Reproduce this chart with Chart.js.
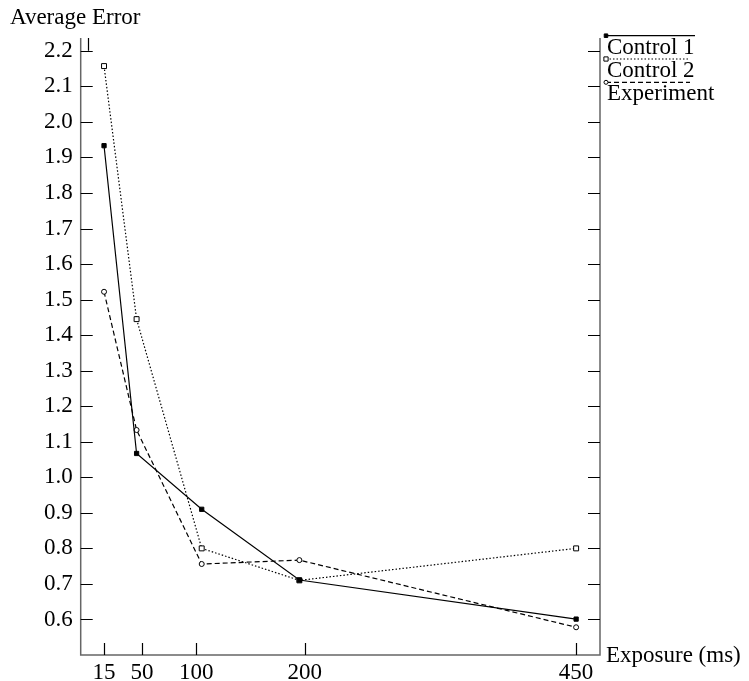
<!DOCTYPE html>
<html><head><meta charset="utf-8">
<script src="https://cdn.jsdelivr.net/npm/chart.js@4/dist/chart.umd.min.js"></script>
<style>html,body{margin:0;padding:0;background:#fff;overflow:hidden}</style>
</head><body>
<canvas id="c" width="749" height="681"></canvas>
<script>
const exposures = [15, 45, 105, 195, 450];
const control1 = [1.933, 1.067, 0.910, 0.711, 0.601];
const control2 = [2.157, 1.445, 0.800, 0.710, 0.800];
const experiment = [1.522, 1.133, 0.756, 0.767, 0.578];
const seriesNames = ['Control 1', 'Control 2', 'Experiment'];
const xTickValues = [15, 50, 100, 200, 450];
const yTickValues = [0.6, 0.7, 0.8, 0.9, 1.0, 1.1, 1.2, 1.3, 1.4, 1.5, 1.6, 1.7, 1.8, 1.9, 2.0, 2.1, 2.2];
const xTitle = 'Exposure (ms)';
const yTitle = 'Average Error';

const FONT = '"Liberation Serif", "Times New Roman", serif';
const FS = 23;
const TICK = 12;

function pts(vals){ return exposures.map((x,i)=>({x:x, y:vals[i]})); }

const styles = [
  {dash: [], pointStyle: 'rect', radius: 3, fill: '#000'},
  {dash: [1.5, 2], pointStyle: 'rect', radius: 3.5, fill: '#fff'},
  {dash: [5, 3], pointStyle: 'circle', radius: 2.5, fill: '#fff'}
];
const seriesVals = [control1, control2, experiment];

const datasets = seriesNames.map((n,i)=>({
  label: n,
  data: pts(seriesVals[i]),
  borderColor: '#000',
  borderWidth: 1.2,
  borderDash: styles[i].dash,
  pointStyle: styles[i].pointStyle,
  pointRadius: styles[i].radius,
  pointBackgroundColor: styles[i].fill,
  pointBorderColor: '#000',
  pointBorderWidth: 1,
  tension: 0,
  fill: false
}));

const framePlugin = {
  id: 'frame',
  afterDraw(chart){
    const ctx = chart.ctx;
    const a = chart.chartArea;
    const xs = chart.scales.x, ys = chart.scales.y;
    ctx.save();
    // axes / frame (left, bottom, right)
    ctx.strokeStyle = '#666';
    ctx.lineWidth = 1.5;
    ctx.beginPath();
    ctx.moveTo(a.left, a.top); ctx.lineTo(a.left, a.bottom); ctx.lineTo(a.right, a.bottom); ctx.lineTo(a.right, a.top);
    ctx.stroke();
    // ticks
    ctx.strokeStyle = '#000';
    ctx.lineWidth = 1.2;
    ctx.beginPath();
    yTickValues.forEach(v=>{
      const y = Math.round(ys.getPixelForValue(v))+0.5;
      ctx.moveTo(a.left, y); ctx.lineTo(a.left+TICK, y);
      ctx.moveTo(a.right, y); ctx.lineTo(a.right-TICK, y);
    });
    xTickValues.forEach(v=>{
      const x = Math.round(xs.getPixelForValue(v))+0.5;
      ctx.moveTo(x, a.bottom); ctx.lineTo(x, a.bottom-TICK);
    });
    // small top tick at x = 0
    const x0 = Math.round(xs.getPixelForValue(0))+0.5;
    ctx.moveTo(x0, a.top); ctx.lineTo(x0, ys.getPixelForValue(2.2));
    ctx.stroke();
    // titles
    ctx.fillStyle = '#000';
    ctx.font = FS + 'px ' + FONT;
    ctx.textAlign = 'left';
    ctx.textBaseline = 'alphabetic';
    ctx.fillText(yTitle, 10, 24);
    ctx.textBaseline = 'middle';
    ctx.fillText(xTitle, a.right + 6, a.bottom + 1);
    // legend
    ctx.textBaseline = 'alphabetic';
    seriesNames.forEach((n,i)=>{
      const ly = 35.7 + i*23.3;
      const x1 = 606, x2 = i===0 ? 695 : 690;
      ctx.save();
      ctx.strokeStyle = '#000';
      ctx.lineWidth = 1.2;
      ctx.setLineDash(styles[i].dash);
      ctx.beginPath(); ctx.moveTo(x1, ly); ctx.lineTo(x2, ly); ctx.stroke();
      ctx.setLineDash([]);
      ctx.lineWidth = 1;
      ctx.fillStyle = styles[i].fill;
      Chart.helpers.drawPoint(ctx, {pointStyle: styles[i].pointStyle, radius: styles[i].radius - 0.5, borderWidth: 1}, x1, ly);
      ctx.restore();
      ctx.fillStyle = '#000';
      ctx.fillText(n, 607, ly + 18);
    });
    ctx.restore();
  }
};

new Chart(document.getElementById('c'), {
  type: 'line',
  data: { datasets },
  options: {
    responsive: false,
    devicePixelRatio: 1,
    animation: false,
    layout: { padding: { top: 38, right: 149, left: 0, bottom: 0 } },
    plugins: { legend: { display: false }, tooltip: { enabled: false } },
    scales: {
      x: {
        type: 'linear', min: -6.5, max: 472,
        grid: { display: false, drawTicks: false },
        border: { display: false },
        afterBuildTicks: s => { s.ticks = xTickValues.map(v=>({value:v})); },
        afterFit: s => { s.height = 26; },
        ticks: { color: '#000', padding: 4, maxRotation: 0, autoSkip: false, font: { family: FONT, size: FS }, callback: v => String(v) }
      },
      y: {
        type: 'linear', min: 0.5, max: 2.236,
        grid: { display: false, drawTicks: false },
        border: { display: false },
        afterBuildTicks: s => { s.ticks = yTickValues.map(v=>({value:v})); },
        afterFit: s => { s.width = 80.7; },
        ticks: { color: '#000', padding: 8, autoSkip: false, font: { family: FONT, size: FS }, callback: v => Number(v).toFixed(1) }
      }
    }
  },
  plugins: [framePlugin]
});
</script>
</body></html>
